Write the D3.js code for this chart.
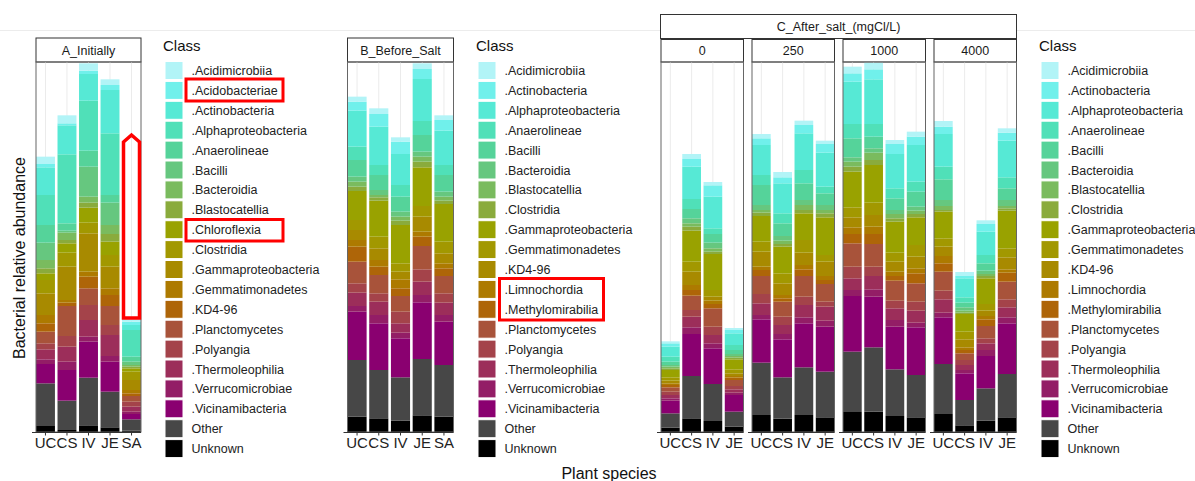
<!DOCTYPE html>
<html>
<head>
<meta charset="utf-8">
<script src="https://cdn.jsdelivr.net/npm/d3@7"></script>
<style>
  body { margin: 0; background: #fff; }
  text { font-family: "Liberation Sans", Arial, sans-serif; }
</style>
</head>
<body>
<div id="chart"></div>
<script>
// classes (legend order = top-to-bottom stacking order)
const classesA = [".Acidimicrobiia", ".Acidobacteriae", ".Actinobacteria", ".Alphaproteobacteria",
  ".Anaerolineae", ".Bacilli", ".Bacteroidia", ".Blastocatellia", ".Chloroflexia", ".Clostridia",
  ".Gammaproteobacteria", ".Gemmatimonadetes", ".KD4-96", ".Planctomycetes", ".Polyangia",
  ".Thermoleophilia", ".Verrucomicrobiae", ".Vicinamibacteria", "Other", "Unknown"];
const classesBC = [".Acidimicrobiia", ".Actinobacteria", ".Alphaproteobacteria", ".Anaerolineae",
  ".Bacilli", ".Bacteroidia", ".Blastocatellia", ".Clostridia", ".Gammaproteobacteria",
  ".Gemmatimonadetes", ".KD4-96", ".Limnochordia", ".Methylomirabilia", ".Planctomycetes",
  ".Polyangia", ".Thermoleophilia", ".Verrucomicrobiae", ".Vicinamibacteria", "Other", "Unknown"];
const palette = ["#b2f4f7", "#70f0eb", "#56e9d5", "#50e0b8", "#55d39a", "#66c77f", "#7abb5e",
  "#8aab3c", "#99a200", "#a29800", "#a88a00", "#ad7a00", "#ae6508", "#a8533a", "#a4434a",
  "#9c2e5a", "#931d66", "#8a0070", "#474747", "#000000"];

const speciesAB = ["UC", "CS", "IV", "JE", "SA"];
const speciesC = ["UC", "CS", "IV", "JE"];
const saltLevels = ["0", "250", "1000", "4000"];

// relative abundance per bar, one row per species, columns follow the class list
const initially = [
  [22, 10, 83, 90, 53, 52, 25, 15, 20, 40, 65, 25, 25, 35, 18, 30, 14, 58, 128, 18],
  [24, 6, 87, 207, 22, 6, 22, 10, 28, 42, 100, 8, 10, 90, 32, 45, 25, 92, 88, 6],
  [22, 10, 80, 150, 48, 90, 18, 15, 45, 32, 115, 15, 35, 50, 45, 50, 15, 108, 143, 20],
  [17, 15, 130, 185, 23, 67, 27, 23, 40, 35, 65, 20, 33, 57, 30, 63, 17, 90, 107, 14],
  [7, 10, 15, 80, 15, 10, 5, 5, 10, 25, 30, 10, 8, 17, 15, 15, 7, 16, 34, 4]
];
const beforeSalt = [
  [15, 27, 108, 40, 50, 15, 15, 13, 87, 30, 30, 20, 45, 65, 28, 40, 17, 145, 170, 46],
  [17, 38, 115, 30, 45, 15, 7, 10, 108, 35, 35, 20, 25, 55, 25, 40, 25, 140, 145, 41],
  [13, 37, 93, 35, 45, 15, 12, 13, 115, 25, 23, 27, 23, 47, 35, 28, 17, 117, 130, 34],
  [17, 30, 126, 42, 50, 15, 15, 17, 116, 32, 45, 15, 28, 70, 37, 40, 22, 170, 169, 50],
  [14, 32, 103, 30, 50, 15, 12, 10, 113, 35, 30, 15, 23, 52, 28, 37, 20, 130, 155, 46]
];
const salt0 = [
  [6, 10, 30, 15, 10, 5, 5, 5, 22, 10, 8, 5, 7, 13, 10, 10, 7, 38, 43, 13],
  [15, 23, 97, 30, 28, 15, 10, 12, 93, 30, 40, 15, 17, 43, 20, 32, 20, 126, 127, 41],
  [10, 34, 95, 17, 26, 17, 10, 7, 108, 20, 12, 10, 13, 55, 25, 25, 15, 107, 111, 33],
  [6, 10, 35, 15, 12, 6, 5, 5, 30, 12, 8, 5, 7, 18, 10, 10, 7, 50, 45, 16]
];
const salt250 = [
  [13, 20, 90, 30, 60, 15, 8, 10, 77, 30, 45, 10, 18, 54, 28, 35, 13, 130, 157, 51],
  [16, 18, 90, 30, 38, 14, 10, 8, 80, 30, 35, 10, 10, 45, 25, 27, 16, 114, 124, 40],
  [13, 25, 110, 40, 50, 15, 15, 10, 80, 38, 37, 13, 20, 62, 25, 37, 18, 132, 143, 51],
  [10, 26, 102, 20, 35, 15, 10, 12, 113, 20, 43, 12, 12, 53, 15, 42, 18, 135, 137, 44]
];
const salt1000 = [
  [20, 25, 127, 43, 57, 13, 15, 15, 107, 30, 30, 20, 28, 70, 35, 35, 18, 167, 181, 60],
  [20, 30, 134, 38, 35, 13, 22, 15, 113, 37, 35, 22, 30, 68, 28, 40, 22, 152, 193, 61],
  [12, 30, 103, 30, 35, 12, 13, 10, 93, 27, 30, 13, 14, 60, 23, 35, 20, 128, 140, 48],
  [15, 25, 110, 30, 45, 12, 10, 10, 83, 35, 35, 15, 30, 55, 27, 36, 14, 143, 127, 44]
];
const salt4000 = [
  [17, 22, 98, 38, 62, 18, 12, 5, 80, 25, 28, 22, 25, 57, 26, 40, 14, 140, 150, 54],
  [12, 7, 57, 16, 14, 10, 6, 4, 53, 23, 24, 8, 10, 20, 15, 15, 10, 80, 76, 20],
  [11, 23, 70, 25, 22, 10, 6, 7, 77, 20, 16, 10, 20, 37, 15, 20, 18, 97, 97, 34],
  [13, 24, 110, 33, 35, 18, 7, 7, 113, 27, 36, 10, 27, 53, 24, 30, 18, 152, 130, 44]
];
const yMax = 1110;

const width = 1195, height = 481;
const plotTop = 62, plotBottom = 432;

const svg = d3.select("#chart").append("svg")
  .attr("width", width).attr("height", height);

// faint background line at the top of the figure
svg.append("line")
  .attr("x1", 0).attr("x2", width).attr("y1", 30.5).attr("y2", 30.5)
  .attr("stroke", "#ececec");

const y = d3.scaleLinear().domain([0, yMax]).range([plotBottom, plotTop]);

function strip(x, yTop, w, h, label) {
  svg.append("rect")
    .attr("x", x).attr("y", yTop).attr("width", w).attr("height", h)
    .attr("fill", "#fff").attr("stroke", "#333").attr("stroke-width", 1);
  svg.append("text")
    .attr("x", x + w / 2).attr("y", yTop + h / 2 + 4.5)
    .attr("text-anchor", "middle")
    .style("font-size", "12.5px").style("fill", "#1a1a1a")
    .text(label);
}

function drawPanel(x0, w, species, classes, matrix, label, stripTop) {
  const x = d3.scaleBand().domain(species).range([x0, x0 + w])
    .paddingInner(0.12).paddingOuter(0);

  strip(x0, stripTop, w, plotTop - stripTop, label);

  const g = svg.append("g");

  // vertical grid lines
  g.selectAll("line.grid")
    .data(species)
    .join("line")
    .attr("x1", d => x(d) + x.bandwidth() / 2)
    .attr("x2", d => x(d) + x.bandwidth() / 2)
    .attr("y1", plotTop).attr("y2", plotBottom)
    .attr("stroke", "#ebebeb").attr("stroke-width", 1);

  const rows = matrix.map((vals, i) => {
    const o = { species: species[i] };
    classes.forEach((c, j) => o[c] = vals[j]);
    return o;
  });
  // first class ends on top, so stack from the last key
  const keys = classes.slice().reverse();
  const series = d3.stack().keys(keys)(rows);
  const color = d3.scaleOrdinal().domain(classes).range(palette);

  g.selectAll("g.layer")
    .data(series)
    .join("g")
    .attr("fill", d => color(d.key))
    .selectAll("rect")
    .data(d => d)
    .join("rect")
    .attr("x", d => x(d.data.species))
    .attr("width", x.bandwidth())
    .attr("y", d => y(d[1]))
    .attr("height", d => y(d[0]) - y(d[1]));

  // panel border
  svg.append("rect")
    .attr("x", x0).attr("y", plotTop).attr("width", w).attr("height", plotBottom - plotTop)
    .attr("fill", "none").attr("stroke", "#666").attr("stroke-width", 1);

  // x axis
  const axis = svg.append("g")
    .attr("transform", `translate(0,${plotBottom + 0.5})`)
    .call(d3.axisBottom(x).tickSize(3).tickSizeOuter(0).tickPadding(1.5));
  axis.select(".domain").attr("stroke", "#333")
    .attr("d", `M${x0 - 4},0H${x0 + w}`);
  axis.selectAll(".tick line").attr("stroke", "#333");
  axis.selectAll(".tick text")
    .style("font-size", "15px").style("fill", "#222")
    .style("font-family", "'Liberation Sans', Arial, sans-serif");
}

function drawLegend(x, classes, boxes) {
  const lg = svg.append("g");
  lg.append("text")
    .attr("x", x - 2).attr("y", 51)
    .style("font-size", "15px").style("fill", "#111")
    .text("Class");
  const item = lg.selectAll("g.item")
    .data(classes)
    .join("g")
    .attr("transform", (d, i) => `translate(${x},${61.5 + i * 19.9})`);
  item.append("rect")
    .attr("width", 18).attr("height", 18)
    .attr("fill", (d, i) => palette[i])
    .attr("stroke", "#fff").attr("stroke-width", 1);
  item.append("text")
    .attr("x", 26.5).attr("y", 13.5)
    .style("font-size", "12.5px").style("fill", "#222")
    .text(d => d);
  boxes.forEach(b => {
    lg.append("rect")
      .attr("x", b[0]).attr("y", b[1]).attr("width", b[2]).attr("height", b[3])
      .attr("fill", "none").attr("stroke", "#ff0000").attr("stroke-width", 3);
  });
}

drawPanel(36, 105, speciesAB, classesA, initially, "A_Initially", 38);
drawPanel(347.5, 106, speciesAB, classesBC, beforeSalt, "B_Before_Salt", 38);

strip(660.5, 14.5, 356, 24, "C_After_salt_(mgCl/L)");
const cX = [661, 752, 843, 934];
[salt0, salt250, salt1000, salt4000].forEach((m, i) => {
  drawPanel(cX[i], 82.5, speciesC, classesBC, m, saltLevels[i], 39.5);
});

drawLegend(165, classesA, [[186, 79, 97, 22], [186, 219.5, 97, 21.5]]);
drawLegend(478, classesBC, [[499.5, 278.5, 104, 41.5]]);
drawLegend(1041, classesBC, []);

// red arrow marker over SA in panel A
svg.append("path")
  .attr("d", "M123.5,318 L123.5,142 L131.5,135 L139.5,142 L139.5,318 Z")
  .attr("fill", "none").attr("stroke", "#ff0000").attr("stroke-width", 3.5)
  .attr("stroke-linejoin", "miter");

// axis titles
svg.append("text")
  .attr("transform", "translate(25,258) rotate(-90)")
  .attr("text-anchor", "middle")
  .style("font-size", "16px").style("fill", "#111")
  .text("Bacterial relative abundance");
svg.append("text")
  .attr("x", 609).attr("y", 479)
  .attr("text-anchor", "middle")
  .style("font-size", "16px").style("fill", "#111")
  .text("Plant species");
</script>
</body>
</html>
